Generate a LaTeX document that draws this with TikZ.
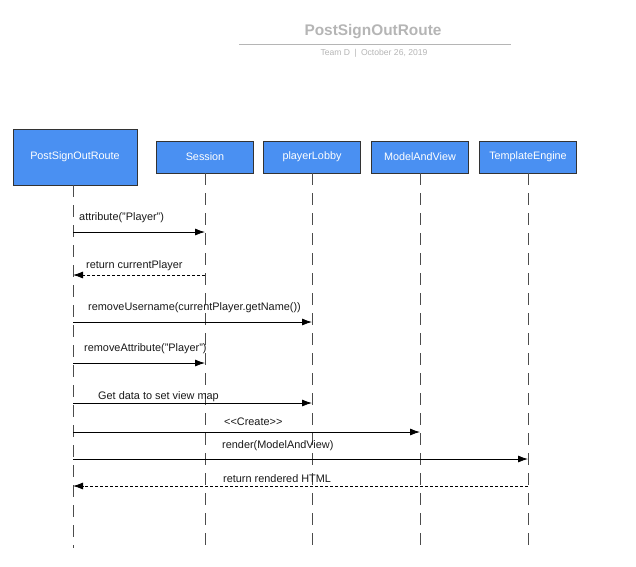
\documentclass[tikz,border=0pt]{standalone}
\usepackage{fontspec}
\setmainfont{Liberation Sans}
\usetikzlibrary{arrows.meta}
\definecolor{boxblue}{HTML}{4A90F2}
\definecolor{titlegray}{HTML}{B5B5B5}
\begin{document}
\begin{tikzpicture}[x=1pt,y=-1pt,
  actor/.style={draw=black!80,line width=0.8pt,fill=boxblue,text=white,font=\fontsize{10.8}{12}\selectfont,inner sep=0pt,anchor=center},
  lifeline/.style={draw=black!70,line width=0.8pt,dash pattern=on 12pt off 8pt},
  msg/.style={draw=black,line width=0.8pt,-{Latex[length=10pt,width=7pt]}},
  ret/.style={draw=black,line width=0.8pt,dash pattern=on 3pt off 2pt,-{Latex[length=10pt,width=7pt]}},
  lbl/.style={font=\fontsize{10.9}{12}\selectfont,anchor=west,inner sep=0pt,text=black!90}]
\useasboundingbox (0,0) rectangle (636,566);
% title
\node[font=\bfseries\fontsize{15.4}{18}\selectfont,text=titlegray] (title) at (373,32) {PostSignOutRoute};
\coordinate (tl) at (239,44);
\coordinate (tr) at (511,44);
\draw[titlegray,line width=1pt] (tl) -- (tr);
\node[font=\fontsize{8.6}{10}\selectfont,text=titlegray] (sub) at (374,53) {Team D\enspace|\enspace October 26, 2019};
% actors
\node[actor,minimum width=124pt,minimum height=56pt] (route) at (75,157) {PostSignOutRoute};
\node[actor,minimum width=97pt,minimum height=32pt] (session) at (205,157) {Session};
\node[actor,minimum width=97pt,minimum height=32pt] (lobby) at (312,157) {playerLobby};
\node[actor,minimum width=97pt,minimum height=32pt] (mav) at (420,157) {ModelAndView};
\node[actor,minimum width=97pt,minimum height=32pt] (te) at (528,157) {TemplateEngine};
% lifelines
\coordinate (rT) at (73,185);  \coordinate (rB) at (73,548);
\coordinate (sT) at (205,173); \coordinate (sB) at (205,548);
\coordinate (lT) at (312,173); \coordinate (lB) at (312,548);
\coordinate (mT) at (420,173); \coordinate (mB) at (420,548);
\coordinate (tT) at (528,173); \coordinate (tB) at (528,548);
\draw[lifeline] (rT) -- (rB);
\draw[lifeline] (sT) -- (sB);
\draw[lifeline] (lT) -- (lB);
\draw[lifeline] (mT) -- (mB);
\draw[lifeline] (tT) -- (tB);
% messages
\draw[msg] (rT |- 0,232) -- (sT |- 0,232);
\node[lbl] (m1) at (79,218) {attribute("Player")};
\draw[ret] (sT |- 0,275) -- (rT |- 0,275);
\node[lbl] (m2) at (86,266) {return currentPlayer};
\draw[msg] (rT |- 0,322) -- (lT |- 0,322);
\node[lbl] (m3) at (88,308) {removeUsername(currentPlayer.getName())};
\draw[msg] (rT |- 0,363) -- (sT |- 0,363);
\node[lbl] (m4) at (84,349) {removeAttribute("Player")};
\draw[msg] (rT |- 0,403) -- (lT |- 0,403);
\node[lbl] (m5) at (98,397) {Get data to set view map};
\draw[msg] (rT |- 0,432) -- (mT |- 0,432);
\node[lbl] (m6) at (224,422) {{<}{<}Create{>}{>}};
\draw[msg] (rT |- 0,459) -- (tT |- 0,459);
\node[lbl] (m7) at (222,446) {render(ModelAndView)};
\draw[ret] (tT |- 0,486) -- (rT |- 0,486);
\node[lbl] (m8) at (223,479) {return rendered HTML};
\end{tikzpicture}
\end{document}
